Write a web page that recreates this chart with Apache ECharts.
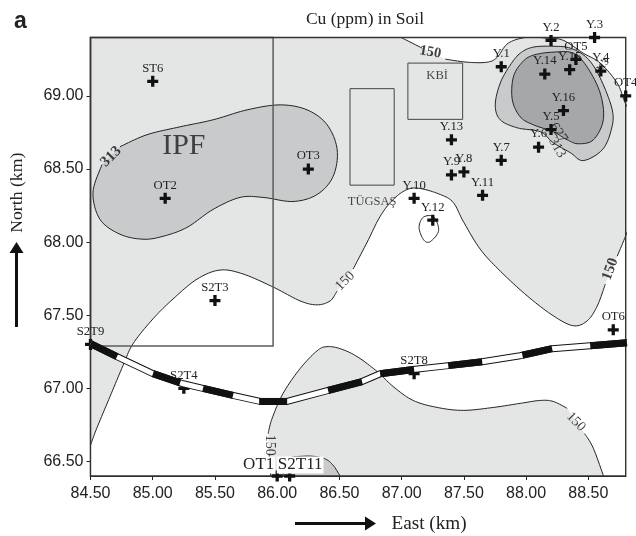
<!DOCTYPE html>
<html><head><meta charset="utf-8">
<style>html,body{margin:0;padding:0;background:#fff}#c{width:636px;height:536px}</style>
<script src="https://cdn.jsdelivr.net/npm/echarts@6/dist/echarts.min.js"></script>
</head><body><div id="c"></div>
<script>
const xTicks = [84.5,85,85.5,86,86.5,87,87.5,88,88.5];
const yTicks = [66.5,67,67.5,68,68.5,69];
const xRange = [84.5,88.8];
const yRange = [66.4,69.4];

// contour 150: lower-left to right edge
const c150a1 = [[84.48,66.57],[84.5,66.611],[84.55,66.726],[84.657,66.944],[84.761,67.155],[84.842,67.305],[85.002,67.475],[85.163,67.611],[85.356,67.747],[85.541,67.809],[85.726,67.782],[85.967,67.693],[86.184,67.598],[86.321,67.571],[86.425,67.598],[86.482,67.666]];
const c150a2 = [[86.61,67.816],[86.723,68.0],[86.827,68.176],[86.932,68.292],[87.044,68.36],[87.149,68.367],[87.31,68.326],[87.414,68.272],[87.495,68.142],[87.631,67.952],[87.792,67.802],[88.009,67.632],[88.218,67.496],[88.379,67.428],[88.491,67.462],[88.572,67.564],[88.636,67.713]];
const c150a3 = [[88.732,67.904],[88.805,68.054],[88.83,68.12]];
// contour 150: southern lobe
const c150b1 = [[88.63,66.38],[88.54,66.59],[88.47,66.69]];
const c150b2 = [[88.33,66.863],[88.218,66.91],[88.114,66.917],[87.953,66.897],[87.736,66.869],[87.495,66.849],[87.286,66.869],[87.092,66.917],[86.932,67.012],[86.804,67.114],[86.642,67.217],[86.506,67.271],[86.40,67.285],[86.321,67.257],[86.184,67.135],[86.047,66.965],[85.959,66.794],[85.927,66.69]];
const c150b3 = [[85.935,66.55],[85.95,66.38]];
// contour 150: north-east
const c150c1 = [[86.95,69.42],[87.165,69.327]];
const c150c2 = [[87.35,69.252],[87.527,69.231],[87.687,69.231],[87.768,69.265],[87.856,69.361],[88.009,69.402],[88.17,69.395],[88.298,69.381],[88.459,69.293],[88.595,69.225],[88.732,69.088],[88.796,68.952],[88.85,68.88]];
// contour 313 / 627
const c313ne = [[88.057,69.334],[88.218,69.34],[88.355,69.327],[88.491,69.259],[88.595,69.123],[88.692,68.905],[88.684,68.769],[88.612,68.632],[88.459,68.558],[88.355,68.612],[88.218,68.68],[88.114,68.755],[87.929,68.782],[87.792,68.837],[87.752,68.939],[87.792,69.088],[87.872,69.211],[87.953,69.293]];
const c627ne = [[88.057,69.279],[88.218,69.30],[88.379,69.293],[88.491,69.197],[88.595,69.02],[88.62,68.837],[88.54,68.70],[88.419,68.673],[88.33,68.70],[88.218,68.755],[88.057,68.803],[87.953,68.857],[87.889,68.973],[87.897,69.129],[87.969,69.231]];
const c313w = [[84.737,68.653],[84.954,68.735],[85.22,68.789],[85.485,68.837],[85.758,68.905],[86.023,68.939],[86.24,68.905],[86.401,68.803],[86.482,68.632],[86.449,68.449],[86.321,68.326],[86.128,68.278],[85.887,68.306],[85.702,68.306],[85.485,68.224],[85.276,68.101],[85.083,68.04],[84.922,68.02],[84.737,68.054],[84.576,68.156],[84.52,68.34],[84.592,68.53]];
const c313s = [[86.048,66.386],[86.064,66.508],[86.225,66.536],[86.37,66.522],[86.449,66.474],[86.514,66.386]];
const loopY12 = [[87.173,68.17],[87.14,68.101],[87.173,68.02],[87.221,68.0],[87.286,68.054],[87.294,68.108],[87.253,68.176]];

// transect
const route = [[84.5,67.305],[84.713,67.216],[85.002,67.10],[85.236,67.033],[85.404,66.999],[85.645,66.951],[85.863,66.91],[86.08,66.91],[86.409,66.985],[86.682,67.046],[86.827,67.10],[87.092,67.128],[87.374,67.155],[87.647,67.182],[87.952,67.223],[88.209,67.271],[88.515,67.291],[88.81,67.312]];
const routeBlack = [
 [[84.5,67.305],[84.713,67.216]],[[85.002,67.10],[85.22,67.037]],[[85.404,66.999],[85.645,66.951]],
 [[85.855,66.91],[86.08,66.91]],[[86.409,66.985],[86.682,67.046]],[[86.827,67.10],[87.10,67.128]],
 [[87.374,67.155],[87.647,67.182]],[[87.97,67.226],[88.209,67.271]],[[88.515,67.291],[88.81,67.312]]];

// [xmin,xmax,ymin,ymax]
const areaIPF = [84.5,85.967,67.29,69.4];
const areaTugsas = [86.585,86.94,68.39,69.05];
const areaKBI = [87.05,87.49,68.84,69.225];

const stationNames = ['ST6','OT2','OT3','S2T3','S2T9','S2T4','OT1','S2T11','S2T8','OT6','Y.1','Y.2','Y.3','Y.14','Y.15','OT5','Y.4','OT4','Y.16','Y.5','Y.6','Y.7','Y.13','Y.9','Y.8','Y.11','Y.10','Y.12'];
const stationE = [85,85.1,86.25,85.5,84.5,85.25,86,86.1,87.1,88.7,87.8,88.2,88.55,88.15,88.35,88.4,88.6,88.8,88.3,88.2,88.1,87.8,87.4,87.4,87.5,87.65,87.1,87.25];
const stationN = [69.1,68.3,68.5,67.6,67.3,67.0,66.4,66.4,67.1,67.4,69.2,69.38,69.4,69.15,69.18,69.25,69.17,69.0,68.9,68.77,68.65,68.56,68.7,68.46,68.48,68.32,68.3,68.15];

const contourLabels = ['150','150','150','150','150','313','627','313','313'];
const contourLabelE = [87.23,86.546,88.676,88.40,85.94,84.665,88.26,88.25,88.615];
const contourLabelN = [69.30,67.734,67.815,66.77,66.61,68.585,68.748,68.646,69.205];
const contourLabelRot = [-10,45,70,-45,-90,45,-55,-60,50];
const contourLabelBold = [true,false,true,false,false,true,false,false,true];
const contourLabelSize = [14.5,14,15,14,14,15,14,14,10];

const siteNames = ['IPF','KBİ','TÜGSAŞ'];
const siteE = [85.25,87.285,86.763];
const siteN = [68.66,69.136,68.278];
const siteSize = [30,12.5,12.5];

const LIGHT='#e4e5e5', MID='#c9cacc', DARK='#a6a7a9';
const SERIF='"Liberation Serif",serif', SANS='"Liberation Sans",sans-serif';

function spline(p, closed){
  const n=p.length, out=[], seg=closed?n:n-1;
  const at=i=>closed?p[(i+n)%n]:p[Math.max(0,Math.min(n-1,i))];
  for(let i=0;i<seg;i++){
    const a=at(i-1),b=at(i),c=at(i+1),d=at(i+2);
    for(let k=0;k<10;k++){
      const t=k/10,t2=t*t,t3=t2*t;
      out.push([0,1].map(j=>0.5*(2*b[j]+(c[j]-a[j])*t+(2*a[j]-5*b[j]+4*c[j]-d[j])*t2+(3*b[j]-a[j]-3*c[j]+d[j])*t3)));
    }
  }
  if(!closed) out.push(p[n-1]);
  return out;
}
function contour(arcs, o){
  o=o||{};
  return {type:'custom',coordinateSystem:'cartesian2d',clip:true,silent:true,data:[[xRange[0],yRange[0]]],
    renderItem(params,api){
      const px=a=>a.map(q=>api.coord(q));
      const lines=arcs.map(a=>spline(px(a),!!o.closed));
      const children=[];
      if(o.fill){
        let poly=[];lines.forEach(l=>poly=poly.concat(l));
        poly=poly.concat(px(o.extra||[]));
        children.push({type:'polygon',shape:{points:poly},style:{fill:o.fill,stroke:null}});
      }
      if(!o.noStroke) lines.forEach(l=>{
        if(o.closed) l=l.concat([l[0]]);
        children.push({type:'polyline',shape:{points:l},style:{fill:null,stroke:'#222',lineWidth:1}});
      });
      return {type:'group',children};
    }};
}
function boxes(list, stroke, width){
  return {type:'custom',coordinateSystem:'cartesian2d',clip:false,silent:true,data:list,encode:{x:[0,1],y:[2,3]},
    renderItem(params,api){
      const a=api.coord([api.value(0),api.value(3)]),b=api.coord([api.value(1),api.value(2)]);
      return {type:'rect',shape:{x:a[0],y:a[1],width:b[0]-a[0],height:b[1]-a[1]},style:{fill:null,stroke,lineWidth:width}};
    }};
}
const labelShift={'OT1':[-18.5,4],'S2T11':[10.5,4]};
const stationData=stationNames.map((name,i)=>{
  const big=labelShift[name];
  return {name,value:[stationE[i],stationN[i]],label:big?{offset:big,fontSize:17,backgroundColor:'#fff',padding:[0,1,0,1],color:'#222'}:{}};
});
const line=(data,w,color)=>({type:'line',data,symbol:'none',clip:false,silent:true,lineStyle:{width:w,color,cap:'butt',join:'round'}});

const option={
  animation:false,
  title:{text:'Cu (ppm) in Soil',left:360,top:5,textAlign:'center',textStyle:{fontFamily:SERIF,fontSize:17.5,fontWeight:'normal',color:'#222'}},
  grid:{left:90.5,right:10.3,top:37.5,bottom:60,show:true,backgroundColor:LIGHT,borderWidth:0,outerBoundsMode:'none'},
  xAxis:{type:'value',min:xRange[0],max:xRange[1],splitLine:{show:false},
    name:'East (km)',nameLocation:'middle',nameGap:38,nameTextStyle:{fontFamily:SERIF,fontSize:19.2,color:'#222',padding:[0,0,0,142]},
    axisLine:{show:true,onZero:false,lineStyle:{color:'#222',width:1.2}},
    axisTick:{show:true,length:4,customValues:xTicks,lineStyle:{color:'#222'}},
    axisLabel:{customValues:xTicks,formatter:v=>v.toFixed(2),fontFamily:SANS,fontSize:16,color:'#222',margin:10}},
  yAxis:{type:'value',min:yRange[0],max:yRange[1],splitLine:{show:false},
    name:'North (km)',nameLocation:'middle',nameGap:64,nameRotate:90,nameTextStyle:{fontFamily:SERIF,fontSize:17.7,color:'#222',padding:[0,0,0,128]},
    axisLine:{show:true,onZero:false,lineStyle:{color:'#222',width:1.2}},
    axisTick:{show:true,length:4,customValues:yTicks,lineStyle:{color:'#222'}},
    axisLabel:{customValues:yTicks,formatter:v=>v.toFixed(2),fontFamily:SANS,fontSize:16,color:'#222',margin:7}},
  graphic:[
    {type:'text',left:14,top:10,style:{text:'a',font:'bold 23px '+SANS,fill:'#222'}},
    {type:'rect',shape:{x:15,y:252,width:3,height:75},style:{fill:'#111'}},
    {type:'polygon',shape:{points:[[16.5,242],[9.5,253],[23.5,253]]},style:{fill:'#111'}},
    {type:'rect',shape:{x:295,y:522,width:72,height:3},style:{fill:'#111'}},
    {type:'polygon',shape:{points:[[376,523.5],[365,516.5],[365,530.5]]},style:{fill:'#111'}}
  ],
  series:[
    contour([c150a1,c150a2,c150a3],{fill:'#fff',extra:[[89,68.1],[89,66],[84,66],[84,66.57]]}),
    contour([c150b1,c150b2,c150b3],{fill:LIGHT,extra:[[85.9,66],[88.7,66]]}),
    contour([c150c1,c150c2],{fill:'#fff',extra:[[89,68.88],[89,69.6],[86.95,69.6]]}),
    contour([c313w],{fill:MID}),
    contour([c313ne],{fill:MID,closed:true}),
    contour([c627ne],{fill:DARK,closed:true}),
    contour([c313s],{fill:MID}),
    contour([loopY12],{closed:true}),
    boxes([areaIPF],'#5c5c5c',1.5),
    boxes([areaTugsas,areaKBI],'#444',1),
    line(route,7,'#111'),
    line(route,5,'#fff'),
    ...routeBlack.map(s=>line(s,7,'#111')),
    boxes([[xRange[0],xRange[1],yRange[0],yRange[1]]],'#333',1.4),
    {type:'scatter',clip:false,silent:true,symbol:'path://M35 0h30v35h35v30h-35v35h-30v-35h-35v-30h35z',symbolSize:11,
      itemStyle:{color:'#111',opacity:1},data:stationData,
      label:{show:true,position:'top',distance:1,formatter:'{b}',fontFamily:SERIF,fontSize:12.7,color:'#222'}},
    {type:'scatter',clip:false,silent:true,symbolSize:0,
      data:siteNames.map((name,i)=>({name,value:[siteE[i],siteN[i]],
        label:{show:true,position:'inside',formatter:'{b}',fontFamily:SERIF,fontSize:siteSize[i],color:'#1c1c1c'}}))},
    {type:'scatter',clip:false,silent:true,symbolSize:0,
      data:contourLabels.map((name,i)=>({name,value:[contourLabelE[i],contourLabelN[i]],
        label:{show:true,position:'inside',rotate:contourLabelRot[i],formatter:'{b}',fontFamily:SERIF,fontSize:contourLabelSize[i],
          fontWeight:contourLabelBold[i]?'bold':'normal',color:'#111'}}))}
  ]
};
echarts.init(document.getElementById('c'),null,{renderer:'canvas'}).setOption(option);
</script></body></html>
